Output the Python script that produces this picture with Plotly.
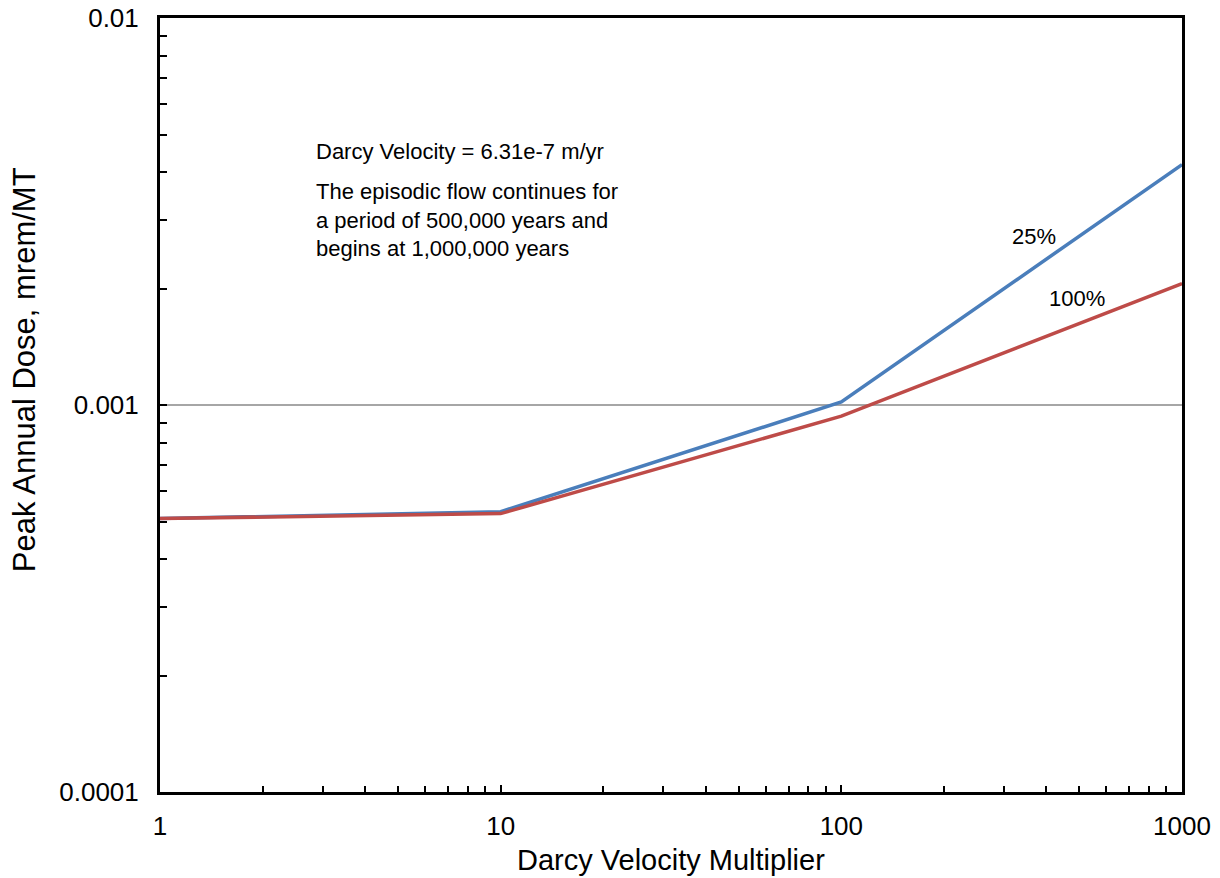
import plotly.graph_objects as go

# Darcy velocity multipliers and peak annual dose (mrem/MT)
multiplier = [1, 10, 100, 1000]
dose_25pct = [5.09e-4, 5.30e-4, 1.018e-3, 4.18e-3]
dose_100pct = [5.09e-4, 5.24e-4, 9.36e-4, 2.06e-3]

x_tickvals = [1, 10, 100, 1000]
x_ticktext = ["1", "10", "100", "1000"]
y_tickvals = [1e-4, 1e-3, 1e-2]
y_ticktext = ["0.0001", "0.001", "0.01"]

FONT = "Liberation Sans, Arial, sans-serif"

fig = go.Figure()
fig.add_trace(go.Scatter(
    x=multiplier, y=dose_25pct, mode="lines", name="25%",
    line=dict(color="#4A7EBB", width=3.5),
))
fig.add_trace(go.Scatter(
    x=multiplier, y=dose_100pct, mode="lines", name="100%",
    line=dict(color="#BE4B48", width=3.5),
))

axis_common = dict(
    showline=True, linecolor="black", linewidth=3, mirror=True,
    ticks="inside", ticklen=7, tickwidth=2, tickcolor="black",
    tickfont=dict(family=FONT, size=26, color="black"),
    zeroline=False, automargin=False,
)

fig.update_xaxes(
    type="log", range=[0, 3],
    tickvals=x_tickvals, ticktext=x_ticktext,
    showgrid=False,
    minor=dict(ticks="inside", ticklen=6, tickwidth=2, tickcolor="black",
               dtick="D1", showgrid=False),
    ticklabelstandoff=9,
    **axis_common,
)
fig.update_yaxes(
    type="log", range=[-4, -2],
    tickvals=y_tickvals, ticktext=y_ticktext,
    showgrid=True, gridcolor="#A6A6A6", gridwidth=1.5,
    minor=dict(ticks="inside", ticklen=7, tickwidth=2, tickcolor="black",
               dtick="D1", showgrid=False),
    ticklabelstandoff=13,
    **axis_common,
)

text_font = dict(family=FONT, size=22, color="black")
fig.add_annotation(
    xref="paper", yref="paper", x=0.1505, y=0.827,
    xanchor="left", yanchor="middle", align="left", showarrow=False,
    text="Darcy Velocity = 6.31e-7 m/yr", font=text_font,
)
fig.add_annotation(
    xref="paper", yref="paper", x=0.1505, y=0.7395,
    xanchor="left", yanchor="middle", align="left", showarrow=False,
    text="The episodic flow continues for<br>a period of 500,000 years and<br>begins at 1,000,000 years",
    font=text_font,
)
# series labels beside each curve
fig.add_annotation(x=2.566, y=-2.565, xref="x", yref="y", text="25%",
                   showarrow=False, font=text_font)
fig.add_annotation(x=2.692, y=-2.725, xref="x", yref="y", text="100%",
                   showarrow=False, font=text_font)

# axis titles
fig.add_annotation(
    xref="paper", yref="paper", x=0.5, y=-0.088,
    xanchor="center", yanchor="middle", showarrow=False,
    text="Darcy Velocity Multiplier",
    font=dict(family=FONT, size=29, color="black"),
)
fig.add_annotation(
    xref="paper", yref="paper", x=-0.133, y=0.545,
    xanchor="center", yanchor="middle", showarrow=False, textangle=-90,
    text="Peak Annual Dose, mrem/MT",
    font=dict(family=FONT, size=31, color="black"),
)

fig.update_layout(
    width=1220, height=878,
    margin=dict(l=160, r=38, t=18, b=86),
    paper_bgcolor="white", plot_bgcolor="white",
    showlegend=False,
)

fig.write_html("out.html")
